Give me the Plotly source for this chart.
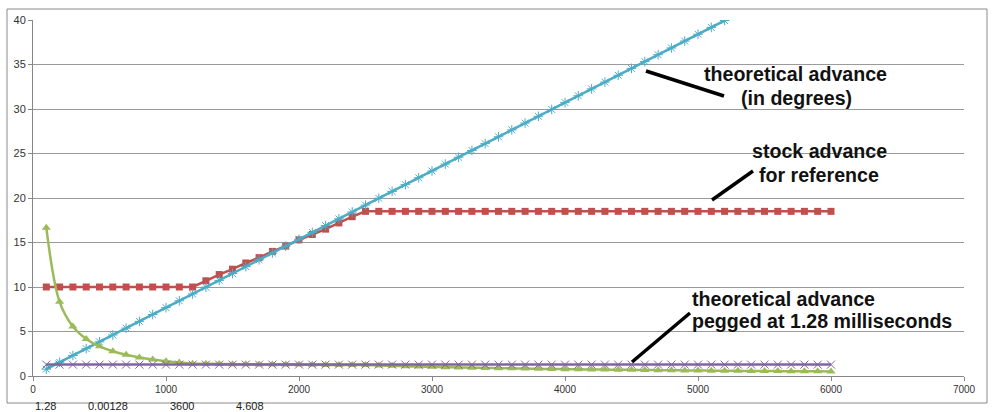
import plotly.graph_objects as go

# ---------------- data ----------------
rpm = [100, 200, 300, 400, 500, 600, 700, 800, 900, 1000,
       1100, 1200, 1300, 1400, 1500, 1600, 1700, 1800, 1900, 2000,
       2100, 2200, 2300, 2400, 2500, 2600, 2700, 2800, 2900, 3000,
       3100, 3200, 3300, 3400, 3500, 3600, 3700, 3800, 3900, 4000,
       4100, 4200, 4300, 4400, 4500, 4600, 4700, 4800, 4900, 5000,
       5100, 5200, 5300, 5400, 5500, 5600, 5700, 5800, 5900, 6000]

stock_advance_deg = [10, 10, 10, 10, 10, 10, 10, 10, 10, 10, 10, 10,
                     10.7, 11.4, 12.0, 12.7, 13.3, 14.0, 14.6, 15.3, 15.9, 16.5, 17.2, 17.9,
                     18.5, 18.5, 18.5, 18.5, 18.5, 18.5, 18.5, 18.5, 18.5, 18.5,
                     18.5, 18.5, 18.5, 18.5, 18.5, 18.5, 18.5, 18.5, 18.5, 18.5,
                     18.5, 18.5, 18.5, 18.5, 18.5, 18.5, 18.5, 18.5, 18.5, 18.5,
                     18.5, 18.5, 18.5, 18.5, 18.5, 18.5]

stock_advance_ms = [16.67, 8.33, 5.56, 4.17, 3.33, 2.78, 2.38, 2.08, 1.85, 1.67,
                    1.52, 1.39, 1.37, 1.36, 1.33, 1.32, 1.30, 1.30, 1.28, 1.28,
                    1.26, 1.25, 1.25, 1.24, 1.23, 1.19, 1.14, 1.10, 1.06, 1.03,
                    0.99, 0.96, 0.93, 0.91, 0.88, 0.86, 0.83, 0.81, 0.79, 0.77,
                    0.75, 0.73, 0.72, 0.70, 0.69, 0.67, 0.66, 0.64, 0.63, 0.62,
                    0.60, 0.59, 0.58, 0.57, 0.56, 0.55, 0.54, 0.53, 0.52, 0.51]

theoretical_rpm = rpm[:52]
theoretical_advance_deg = [0.77, 1.54, 2.30, 3.07, 3.84, 4.61, 5.38, 6.14, 6.91, 7.68,
                           8.45, 9.22, 9.98, 10.75, 11.52, 12.29, 13.06, 13.82, 14.59, 15.36,
                           16.13, 16.90, 17.66, 18.43, 19.20, 19.97, 20.74, 21.50, 22.27, 23.04,
                           23.81, 24.58, 25.34, 26.11, 26.88, 27.65, 28.42, 29.18, 29.95, 30.72,
                           31.49, 32.26, 33.02, 33.79, 34.56, 35.33, 36.10, 36.86, 37.63, 38.40,
                           39.17, 39.94]

pegged_ms = [1.28] * 60

x_ticks = [0, 1000, 2000, 3000, 4000, 5000, 6000, 7000]
y_ticks = [0, 5, 10, 15, 20, 25, 30, 35, 40]

sheet_cells = ["1.28", "0.00128", "3600", "4.608"]

# ---------------- layout geometry (pixels) ----------------
W, H = 1000, 412
ML, MR, MT, MB = 33, 36, 20, 36
PW, PH = W - ML - MR, H - MT - MB
XMAX, YMAX = 7000, 40


def px_x(px):
    return (px - ML) / PW * XMAX


def px_y(py):
    return (H - MB - py) / PH * YMAX


def paper_x(px):
    return (px - ML) / PW


def paper_y(py):
    return (H - MB - py) / PH


RED = "#C0504D"
GREEN = "#9BBB59"
BLUE = "#4BACC6"
PURPLE = "#8064A2"

fig = go.Figure()

fig.add_trace(go.Scatter(
    x=rpm, y=stock_advance_deg, mode="lines+markers",
    line=dict(color=RED, width=2.5),
    marker=dict(symbol="square", size=7, color=RED),
    name="stock advance"))

fig.add_trace(go.Scatter(
    x=theoretical_rpm, y=theoretical_advance_deg, mode="lines+markers",
    line=dict(color=BLUE, width=2.5),
    marker=dict(symbol="asterisk-open", size=8, color=BLUE, line=dict(width=1, color="#7FC4D8")),
    name="theoretical advance"))

fig.add_trace(go.Scatter(
    x=rpm, y=stock_advance_ms, mode="lines+markers",
    line=dict(color=GREEN, width=2.5, shape="spline", smoothing=1),
    marker=dict(symbol="triangle-up", size=8, color=GREEN),
    name="stock advance ms"))

fig.add_trace(go.Scatter(
    x=rpm, y=pegged_ms, mode="lines+markers",
    line=dict(color=PURPLE, width=2.5),
    marker=dict(symbol="x-thin-open", size=8, color=PURPLE, line=dict(width=1, color="#9C88BC")),
    name="pegged"))

annos = []
TF = dict(family="Liberation Sans, Arial, sans-serif", size=19.6, color="#111111")


def text(s, cx, cy, xanchor="center"):
    annos.append(dict(x=px_x(cx), y=px_y(cy), xref="x", yref="y", text="<b>%s</b>" % s,
                      showarrow=False, font=TF, xanchor=xanchor, yanchor="middle"))


text("theoretical advance", 795.5, 74)
text("(in degrees)", 796, 98)
text("stock advance", 819.5, 151)
text("for reference", 818.5, 175)
text("theoretical advance", 690, 299, "left")
text("pegged at 1.28 milliseconds", 690, 321, "left")

cell_x = [45, 108, 182, 250]
for s, cx in zip(sheet_cells, cell_x):
    annos.append(dict(x=paper_x(cx), y=paper_y(398), xref="paper", yref="paper", text=s,
                      showarrow=False, xanchor="center", yanchor="top",
                      font=dict(family="Liberation Sans, Arial, sans-serif", size=11, color="#222222")))

shapes = []
for (x0, y0, x1, y1) in [(646, 71, 724, 96), (753, 171, 712, 200), (690, 313, 632, 362)]:
    shapes.append(dict(type="line", xref="x", yref="y", x0=px_x(x0), y0=px_y(y0),
                       x1=px_x(x1), y1=px_y(y1), line=dict(color="#000000", width=3.5)))

# chart border
shapes.append(dict(type="rect", xref="paper", yref="paper", x0=paper_x(7), x1=paper_x(987),
                   y0=paper_y(403), y1=paper_y(9), line=dict(color="#8a8a8a", width=1),
                   layer="below"))

fig.update_layout(
    width=W, height=H,
    margin=dict(l=ML, r=MR, t=MT, b=MB),
    paper_bgcolor="white", plot_bgcolor="white",
    showlegend=False,
    annotations=annos, shapes=shapes,
    xaxis=dict(range=[0, XMAX], tickvals=x_ticks, showgrid=False, zeroline=False,
               showline=True, linecolor="#868686", linewidth=1,
               ticks="outside", ticklen=4, tickcolor="#868686",
               tickfont=dict(family="Liberation Sans, Arial, sans-serif", size=10, color="#333333")),
    yaxis=dict(range=[0, YMAX], tickvals=y_ticks, showgrid=True, gridcolor="#9a9a9a", gridwidth=1,
               zeroline=False, showline=True, linecolor="#868686", linewidth=1,
               ticks="outside", ticklen=4, tickcolor="#868686",
               tickfont=dict(family="Liberation Sans, Arial, sans-serif", size=11, color="#333333")),
)

fig.write_html("out.html", config={"displayModeBar": False},
               post_script="document.body.style.margin='0';document.body.style.overflow='hidden';")
